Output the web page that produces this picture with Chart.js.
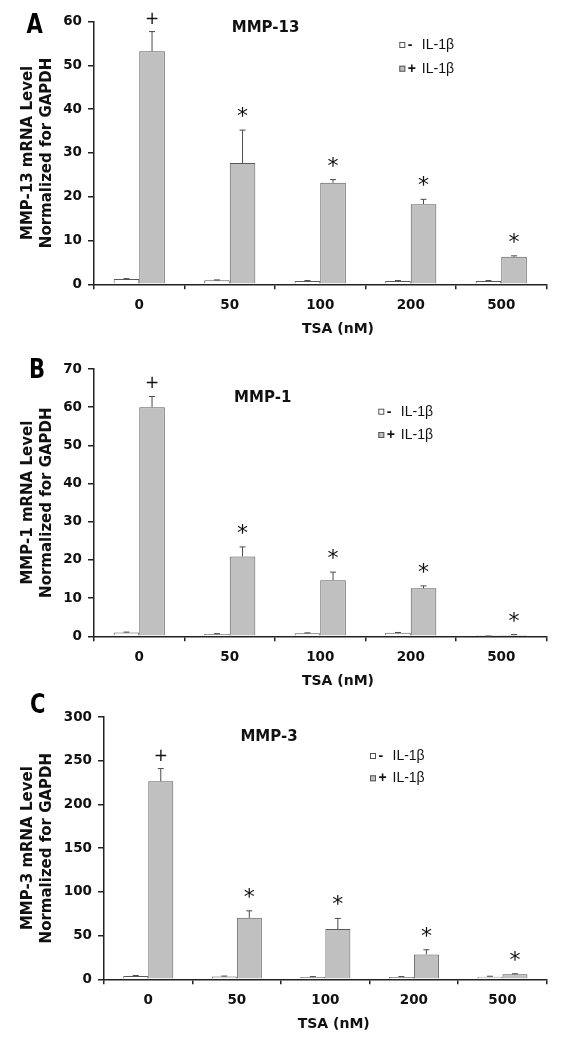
<!DOCTYPE html>
<html><head><meta charset="utf-8">
<script src="https://cdn.jsdelivr.net/npm/chart.js@4.4.1/dist/chart.umd.min.js"></script>
<style>
html,body{margin:0;padding:0;background:#fff;width:570px;height:1048px;overflow:hidden}
canvas{position:absolute;left:0}
</style></head><body>
<canvas id="cA" width="570" height="340" style="top:0px"></canvas>
<canvas id="cB" width="570" height="350" style="top:340px"></canvas>
<canvas id="cC" width="570" height="358" style="top:690px"></canvas>
<script>
// ---- data ----
const categories = ['0', '50', '100', '200', '500'];
const seriesNames = ['- IL-1β', '+ IL-1β'];
const xAxisTitle = 'TSA (nM)';

// Panel A: MMP-13
const mmp13Minus    = [1.2, 0.9, 0.75, 0.75, 0.75];
const mmp13MinusErr = [0.1, 0.1, 0.1, 0.1, 0.1];
const mmp13Plus     = [53.2, 27.7, 23.2, 18.3, 6.3];
const mmp13PlusErr  = [4.5, 7.5, 0.7, 1.1, 0.2];
const mmp13Marks    = ['+', '*', '*', '*', '*'];
const mmp13Ticks    = [0, 10, 20, 30, 40, 50, 60];

// Panel B: MMP-1
const mmp1Minus    = [1.0, 0.6, 0.8, 0.9, 0.05];
const mmp1MinusErr = [0.1, 0.1, 0.1, 0.1, 0.02];
const mmp1Plus     = [60.0, 20.9, 14.7, 12.6, 0.35];
const mmp1PlusErr  = [2.8, 2.5, 2.1, 0.6, 0.1];
const mmp1Marks    = ['+', '*', '*', '*', '*'];
const mmp1Ticks    = [0, 10, 20, 30, 40, 50, 60, 70];

// Panel C: MMP-3
const mmp3Minus    = [3.8, 3.2, 2.6, 2.6, 3.0];
const mmp3MinusErr = [0.5, 0.5, 0.5, 0.5, 0.5];
const mmp3Plus     = [226.6, 70.3, 57.4, 28.5, 5.8];
const mmp3PlusErr  = [14.4, 8.0, 12.2, 5.3, 0.5];
const mmp3Marks    = ['+', '*', '*', '*', '*'];
const mmp3Ticks    = [0, 50, 100, 150, 200, 250, 300];

// ---- layout (positions/styles) ----
const FONT = 'DejaVu Sans';
const panels = [
  {id:'cA', H:340, top:21.5, bottom:284.3, left:94, right:546.5, letter:'A', letterXY:[34.7,23.3],
   title:'MMP-13', titleXY:[265.6,26], legX:399.3, legY:[45,68.7], xTitleXY:[338,328],
   yTitle:['MMP-13 mRNA Level','Normalized for GAPDH'],
   minus:mmp13Minus, minusErr:mmp13MinusErr, plus:mmp13Plus, plusErr:mmp13PlusErr, marks:mmp13Marks, ticks:mmp13Ticks},
  {id:'cB', H:350, top:29, bottom:296.3, left:94, right:546.5, letter:'B', letterXY:[37,27.5],
   title:'MMP-1', titleXY:[262.7,55.7], legX:378.3, legY:[71.7,95], xTitleXY:[338,340],
   yTitle:['MMP-1 mRNA Level','Normalized for GAPDH'],
   minus:mmp1Minus, minusErr:mmp1MinusErr, plus:mmp1Plus, plusErr:mmp1PlusErr, marks:mmp1Marks, ticks:mmp1Ticks},
  {id:'cC', H:358, top:27, bottom:289.3, left:104, right:546.7, letter:'C', letterXY:[37.7,13],
   title:'MMP-3', titleXY:[269,45], legX:370, legY:[66,88.3], xTitleXY:[333.7,333.3],
   yTitle:['MMP-3 mRNA Level','Normalized for GAPDH'],
   minus:mmp3Minus, minusErr:mmp3MinusErr, plus:mmp3Plus, plusErr:mmp3PlusErr, marks:mmp3Marks, ticks:mmp3Ticks}
];

function drawCentered(ctx, text, cx, cy) {
  ctx.textAlign = 'center';
  ctx.textBaseline = 'alphabetic';
  const m = ctx.measureText(text);
  const asc = m.actualBoundingBoxAscent, desc = m.actualBoundingBoxDescent;
  ctx.fillText(text, cx, cy + (asc - desc) / 2);
}

const extrasPlugin = {
  id: 'extras',
  afterDatasetsDraw(chart) {
    const p = chart.options.plugins.extras;
    const ctx = chart.ctx;
    const y = chart.scales.y;
    ctx.save();
    // error bars (upper only)
    ctx.strokeStyle = '#4a4a4a';
    ctx.lineWidth = 1;
    chart.data.datasets.forEach((ds, di) => {
      const meta = chart.getDatasetMeta(di);
      meta.data.forEach((bar, i) => {
        const v = ds.data[i], e = ds.err[i];
        const yb = y.getPixelForValue(v), yt = y.getPixelForValue(v + e);
        ctx.beginPath();
        ctx.moveTo(bar.x, yb); ctx.lineTo(bar.x, yt);
        ctx.moveTo(bar.x - 3, yt); ctx.lineTo(bar.x + 3, yt);
        ctx.stroke();
      });
    });
    // significance marks above the + IL-1β bars
    const ds = chart.data.datasets[1];
    const meta = chart.getDatasetMeta(1);
    ctx.fillStyle = '#111';
    meta.data.forEach((bar, i) => {
      const yt = y.getPixelForValue(ds.data[i] + ds.err[i]);
      const mk = p.marks[i];
      if (mk === '+') { ctx.font = '17px "' + FONT + '"'; drawCentered(ctx, mk, bar.x, yt - 14); }
      else { ctx.font = '22px "' + FONT + '"'; drawCentered(ctx, mk, bar.x, yt - 18); }
    });
    ctx.restore();
  },
  afterDraw(chart) {
    const p = chart.options.plugins.extras;
    const ctx = chart.ctx;
    ctx.save();
    ctx.fillStyle = '#111';
    // panel title
    ctx.font = 'bold 15px "' + FONT + '"';
    drawCentered(ctx, p.title, p.titleXY[0], p.titleXY[1]);
    // x axis title
    ctx.font = 'bold 14px "' + FONT + '"';
    drawCentered(ctx, xAxisTitle, p.xTitleXY[0], p.xTitleXY[1]);
    // panel letter (condensed bold)
    ctx.save();
    ctx.translate(p.letterXY[0], p.letterXY[1]);
    ctx.scale(0.78, 1);
    ctx.fillStyle = '#000';
    ctx.font = 'bold 27px "' + FONT + '"';
    drawCentered(ctx, p.letter, 0, 0);
    ctx.restore();
    // legend
    chart.data.datasets.forEach((ds, i) => {
      const cy = p.legY[i];
      ctx.fillStyle = ds.backgroundColor;
      ctx.fillRect(p.legX, cy - 3, 6, 6);
      ctx.strokeStyle = '#555';
      ctx.lineWidth = 1;
      ctx.strokeRect(p.legX + 0.5, cy - 2.5, 5, 5);
      const parts = ds.label.split(' ');
      ctx.fillStyle = '#111';
      ctx.textAlign = 'left';
      ctx.textBaseline = 'middle';
      ctx.font = 'bold 14px "Liberation Sans"';
      ctx.fillText(parts[0], p.legX + 8.5, cy);
      ctx.font = '14px "Liberation Sans"';
      ctx.fillText(parts.slice(1).join(' '), p.legX + 22.5, cy);
    });
    ctx.restore();
  }
};

panels.forEach(p => {
  const el = document.getElementById(p.id);
  new Chart(el, {
    type: 'bar',
    data: {
      labels: categories,
      datasets: [
        {label: seriesNames[0], data: p.minus, err: p.minusErr, backgroundColor: '#ffffff', borderColor: '#5a5a5a', borderWidth: 1},
        {label: seriesNames[1], data: p.plus, err: p.plusErr, backgroundColor: '#c0c0c0', borderColor: '#5a5a5a', borderWidth: 1}
      ]
    },
    options: {
      responsive: false, animation: false, devicePixelRatio: 1,
      layout: {padding: {top: p.top, right: 570 - p.right, left: 0, bottom: 0}},
      datasets: {bar: {categoryPercentage: 0.565, barPercentage: 1}},
      plugins: {
        legend: {display: false}, tooltip: {enabled: false}, title: {display: false},
        extras: p
      },
      scales: {
        x: {
          grid: {display: true, drawOnChartArea: false, drawTicks: true, tickLength: 5, color: '#222', lineWidth: 1.5, offset: true},
          border: {display: true, color: '#222', width: 1.5},
          ticks: {color: '#111', font: {family: FONT, weight: 'bold', size: 13.5}, padding: 8, maxRotation: 0, autoSkip: false},
          afterFit: s => { s.height = p.H - p.bottom; }
        },
        y: {
          min: p.ticks[0], max: p.ticks[p.ticks.length - 1],
          afterBuildTicks: s => { s.ticks = p.ticks.map(v => ({value: v})); },
          grid: {display: true, drawOnChartArea: false, drawTicks: true, tickLength: 6, color: '#222', lineWidth: 1.5},
          border: {display: true, color: '#222', width: 1.5},
          ticks: {color: '#111', font: {family: FONT, weight: 'bold', size: 13.5}, padding: 6},
          title: {display: true, text: p.yTitle, color: '#111', font: {family: FONT, weight: 'bold', size: 15, lineHeight: 1.3}, padding: {top: 18, bottom: 0}},
          afterFit: s => { s.width = p.left; }
        }
      }
    },
    plugins: [extrasPlugin]
  });
});
</script>
</body></html>
